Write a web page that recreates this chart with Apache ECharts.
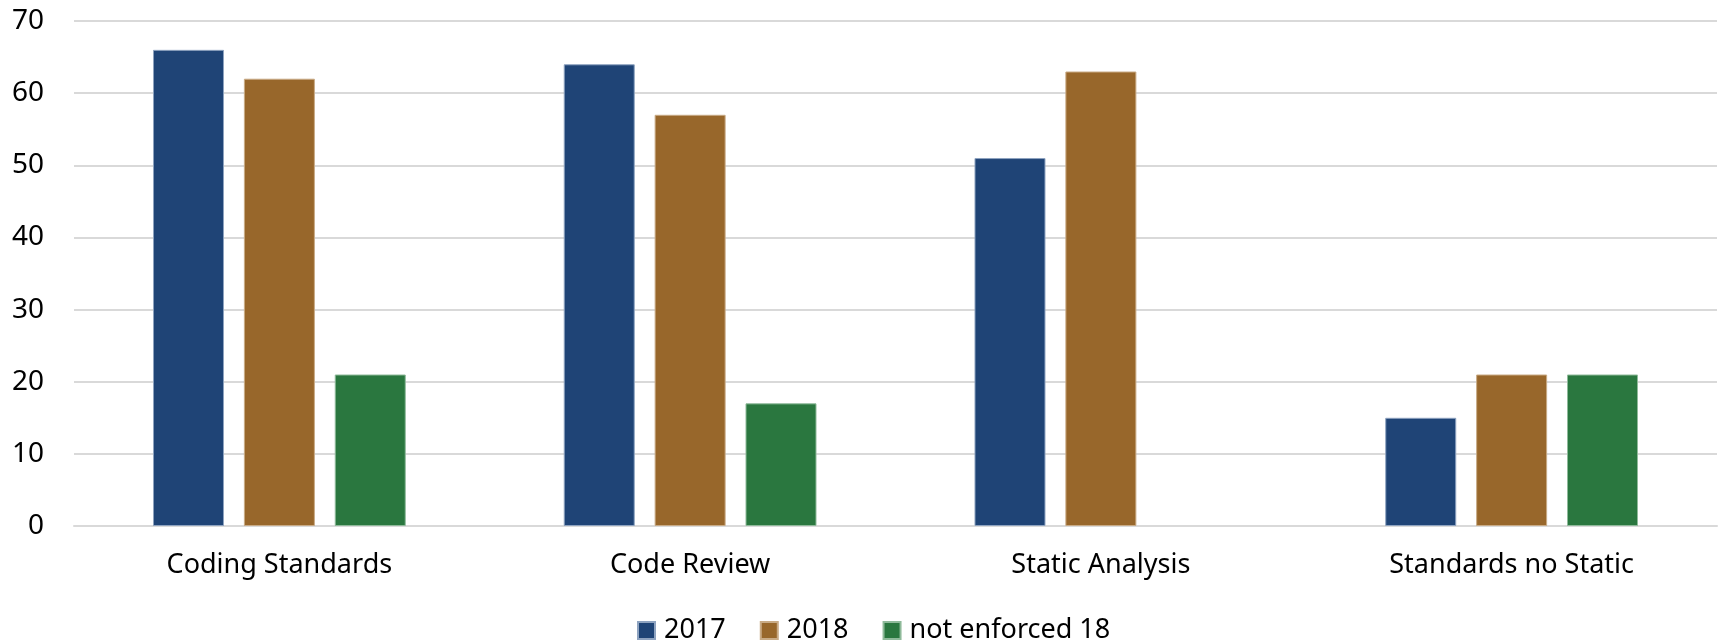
<!DOCTYPE html>
<html><head><meta charset="utf-8">
<script src="https://cdn.jsdelivr.net/npm/echarts@6/dist/echarts.min.js"></script>
<style>html,body{margin:0;padding:0;background:#fff}#c{width:1720px;height:643px}</style>
</head><body><div id="c"></div>
<script>
const categories = ['Coding Standards', 'Code Review', 'Static Analysis', 'Standards no Static'];
const s2017 = [66, 64, 51, 15];
const s2018 = [62, 57, 63, 21];
const sNotEnforced18 = [21, 17, null, 21];
const yTicks = [0, 10, 20, 30, 40, 50, 60, 70];

const font = 'Noto Sans';
const chart = echarts.init(document.getElementById('c'));
function bar(name, data, color, border) {
  return {
    name, type: 'bar', data, barWidth: 71, barGap: '28%',
    itemStyle: { color, borderColor: border, borderWidth: 1 }
  };
}
chart.setOption({
  animation: false,
  textStyle: { fontFamily: font },
  grid: { left: 74, right: 3, top: 21, bottom: 117, containLabel: false },
  legend: {
    top: 612, left: 632, itemWidth: 17, itemHeight: 17, itemGap: 34,
    icon: 'rect',
    textStyle: { fontFamily: font, fontSize: 27, color: '#000', padding: [0, 0, 0, 4] },
    data: ['2017', '2018', 'not enforced 18']
  },
  xAxis: {
    type: 'category', data: categories,
    axisLine: { show: true, lineStyle: { color: '#d9d9d9', width: 2 } },
    axisTick: { show: false },
    axisLabel: { fontFamily: font, fontSize: 27, color: '#000', margin: 26 }
  },
  yAxis: {
    type: 'value', min: yTicks[0], max: yTicks[yTicks.length - 1], interval: 10,
    axisLine: { show: false }, axisTick: { show: false },
    splitLine: { lineStyle: { color: '#d9d9d9', width: 2 } },
    axisLabel: { fontFamily: font, fontSize: 28, color: '#000', margin: 30 }
  },
  series: [
    bar('2017', s2017, '#1f4476', '#8ea3c0'),
    bar('2018', s2018, '#98672b', '#c9ab86'),
    bar('not enforced 18', sNotEnforced18, '#2a773f', '#8fba9a')
  ]
});
</script></body></html>
